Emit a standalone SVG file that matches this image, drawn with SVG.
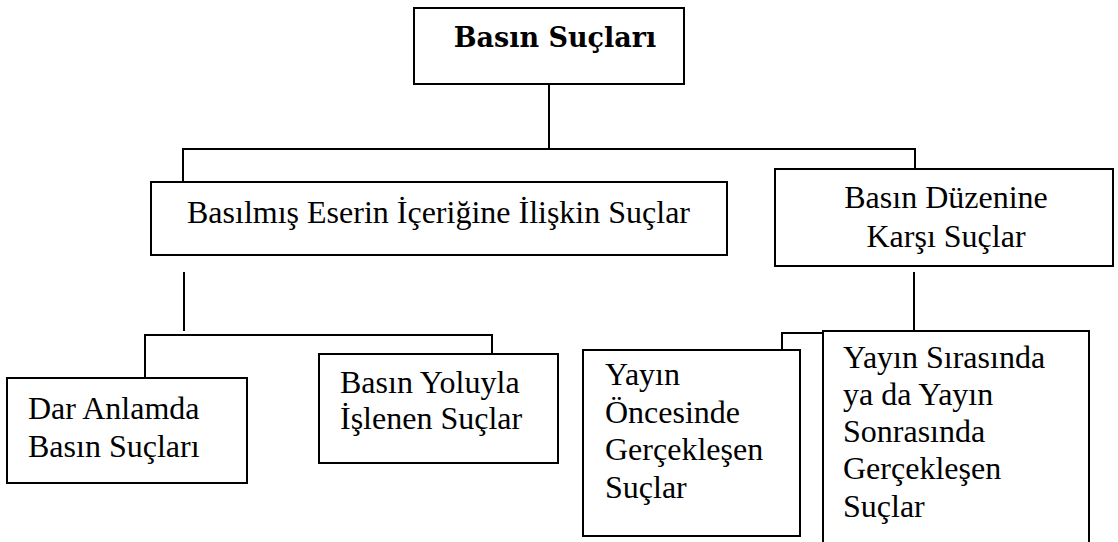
<svg xmlns="http://www.w3.org/2000/svg" width="1118" height="542" viewBox="0 0 1118 542">
<style>
.box{fill:#fff;stroke:#000;stroke-width:2}
.ln{fill:none;stroke:#000;stroke-width:2}
.t{font-family:"Liberation Serif","Times New Roman",serif;font-size:32px;fill:#000}
.b{font-family:"DejaVu Serif","Liberation Serif",serif;font-size:27px;font-weight:bold;fill:#000}
</style>
<rect width="1118" height="542" fill="#fff"/>
<g id="connectors">
<path class="ln" d="M549 84V149M183 182V149H915V169"/>
<path class="ln" d="M184 272V331M145 378V335H492V354"/>
<path class="ln" d="M914 272V333M782 350V333H900"/>
</g>
<g id="n-basin-suclari">
<rect class="box" x="414" y="8" width="270" height="76"/>
<text class="b" x="555" y="47" text-anchor="middle">Basın Suçları</text>
</g>
<g id="n-icerik">
<rect class="box" x="151" y="182" width="576" height="73"/>
<text class="t" x="187" y="223">Basılmış Eserin İçeriğine İlişkin Suçlar</text>
</g>
<g id="n-duzen">
<rect class="box" x="775" y="169" width="338" height="97"/>
<text class="t" x="946" y="208" text-anchor="middle">Basın Düzenine</text>
<text class="t" x="946" y="247" text-anchor="middle">Karşı Suçlar</text>
</g>
<g id="n-dar">
<rect class="box" x="7" y="378" width="240" height="105"/>
<text class="t" x="28" y="419">Dar Anlamda</text>
<text class="t" x="28" y="457">Basın Suçları</text>
</g>
<g id="n-yoluyla">
<rect class="box" x="319" y="354" width="239" height="109"/>
<text class="t" x="340" y="393">Basın Yoluyla</text>
<text class="t" x="340" y="429">İşlenen Suçlar</text>
</g>
<g id="n-oncesi">
<rect class="box" x="583" y="350" width="217" height="186"/>
<text class="t" x="605" y="385">Yayın</text>
<text class="t" x="605" y="423">Öncesinde</text>
<text class="t" x="605" y="460">Gerçekleşen</text>
<text class="t" x="605" y="498">Suçlar</text>
</g>
<g id="n-sirasi">
<rect class="box" x="823" y="331" width="266" height="220"/>
<text class="t" x="843" y="368">Yayın Sırasında</text>
<text class="t" x="843" y="405">ya da Yayın</text>
<text class="t" x="843" y="442">Sonrasında</text>
<text class="t" x="843" y="479">Gerçekleşen</text>
<text class="t" x="843" y="517">Suçlar</text>
</g>
</svg>
